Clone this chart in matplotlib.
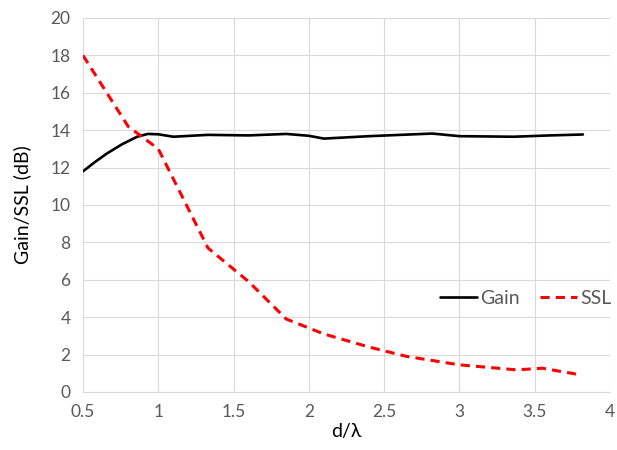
import matplotlib
matplotlib.use("Agg")
import matplotlib.pyplot as plt

gain_x = [0.5, 0.58, 0.66, 0.76, 0.86, 0.93, 1.0, 1.1, 1.33, 1.6, 1.85, 2.0, 2.1, 2.4, 2.82, 3.0, 3.36, 3.6, 3.82]
gain_y = [11.8, 12.3, 12.76, 13.25, 13.65, 13.8, 13.78, 13.65, 13.75, 13.72, 13.8, 13.7, 13.55, 13.68, 13.82, 13.68, 13.65, 13.72, 13.77]

ssl_x = [0.5, 0.8, 1.0, 1.33, 1.6, 1.85, 2.1, 2.4, 2.65, 3.0, 3.38, 3.55, 3.8]
ssl_y = [18.0, 14.2, 13.0, 7.7, 5.9, 3.9, 3.1, 2.4, 1.9, 1.45, 1.18, 1.27, 0.92]

x_ticks = [0.5, 1, 1.5, 2, 2.5, 3, 3.5, 4]
x_labels = ["0.5", "1", "1.5", "2", "2.5", "3", "3.5", "4"]
y_ticks = [0, 2, 4, 6, 8, 10, 12, 14, 16, 18, 20]

plt.rcParams['font.family'] = ['Lato', 'DejaVu Sans']

fig = plt.figure(figsize=(6.17, 4.5), dpi=100)
ax = fig.add_axes([0.1345, 0.129, 0.8542, 0.831])

ax.plot(gain_x, gain_y, color='black', lw=1.9, label='Gain',
        solid_joinstyle='round', solid_capstyle='round')
ax.plot(ssl_x, ssl_y, color='#ff0000', lw=2.2, dashes=(3, 2), label='SSL')

ax.set_xlim(0.5, 4)
ax.set_ylim(0, 20)
ax.set_xticks(x_ticks)
ax.set_xticklabels(x_labels)
ax.set_yticks(y_ticks)
ax.grid(True, color='#d9d9d9', lw=0.8)
ax.set_axisbelow(True)
for s in ['top', 'right', 'left']:
    ax.spines[s].set_visible(False)
ax.spines['bottom'].set_color('#d9d9d9')
ax.tick_params(length=0, labelsize=12.5, labelcolor='#595959', pad=9)

ax.set_xlabel('d/λ', fontsize=14, color='black', labelpad=2)
ax.set_ylabel('Gain/SSL (dB)', fontsize=14, color='black', labelpad=14)

leg = ax.legend(loc='center', bbox_to_anchor=(0.84, 0.25), ncol=2, frameon=False,
                fontsize=14, handlelength=1.9, columnspacing=1.0, handletextpad=0.2)
for t in leg.get_texts():
    t.set_color('#595959')

fig.savefig('out.png', dpi=100)
